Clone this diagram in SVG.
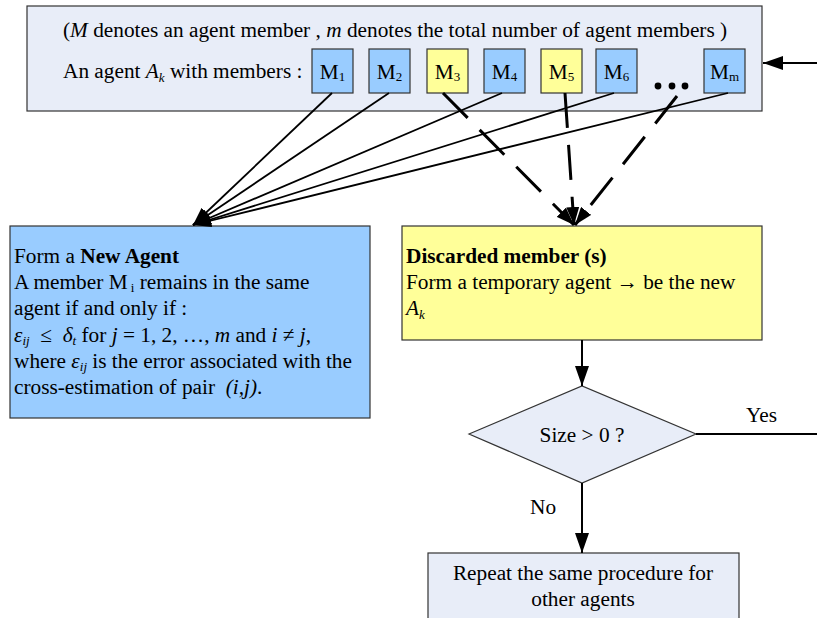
<svg xmlns="http://www.w3.org/2000/svg" width="817" height="618" viewBox="0 0 817 618">
  <style>
    text { font-family: "Liberation Serif", "Times New Roman", serif; font-size: 21.3px; fill: #000; }
    .it { font-style: italic; }
    .b { font-weight: bold; }
    .sub { font-size: 13px; }
    .pale { fill: #E8EDF8; stroke: #333; stroke-width: 1.2; }
    .blue { fill: #99CCFF; stroke: #333; stroke-width: 1.2; }
    .yellow { fill: #FFFF99; stroke: #333; stroke-width: 1.2; }
    .solid { fill: none; stroke: #000; stroke-width: 2; }
    .thin { fill: none; stroke: #000; stroke-width: 1.8; }
    .dash { fill: none; stroke: #000; stroke-width: 3; stroke-dasharray: 35 17; }
  </style>
  <defs>
    <marker id="head" viewBox="0 0 20 14" refX="20" refY="7" markerWidth="20" markerHeight="14" markerUnits="userSpaceOnUse" orient="auto">
      <path d="M0,0 L20,7 L0,14 z" fill="#000"/>
    </marker>
    <marker id="headS" viewBox="0 0 18 13" refX="18" refY="6.5" markerWidth="18" markerHeight="13" markerUnits="userSpaceOnUse" orient="auto">
      <path d="M0,0 L18,6.5 L0,13 z" fill="#000"/>
    </marker>
  </defs>

  <!-- Agent A_k with its members -->
  <g id="agent">
    <rect class="pale" x="27" y="6" width="735" height="105"/>
    <text x="63" y="37">(<tspan class="it">M</tspan> denotes an agent member , <tspan class="it">m</tspan> denotes the total number of agent members )</text>
    <text x="63" y="78">An agent <tspan class="it">A</tspan><tspan class="it sub" dy="4">k</tspan><tspan dy="-4"> with members :</tspan></text>
  </g>
  <g id="member-1">
    <rect class="blue" x="312" y="49" width="41" height="44"/>
    <text x="332.5" y="79" text-anchor="middle">M<tspan class="sub" dy="2">1</tspan></text>
  </g>
  <g id="member-2">
    <rect class="blue" x="369" y="49" width="41" height="44"/>
    <text x="389.5" y="79" text-anchor="middle">M<tspan class="sub" dy="2">2</tspan></text>
  </g>
  <g id="member-3">
    <rect class="yellow" x="427" y="49" width="41" height="44"/>
    <text x="447.5" y="79" text-anchor="middle">M<tspan class="sub" dy="2">3</tspan></text>
  </g>
  <g id="member-4">
    <rect class="blue" x="484" y="49" width="41" height="44"/>
    <text x="504.5" y="79" text-anchor="middle">M<tspan class="sub" dy="2">4</tspan></text>
  </g>
  <g id="member-5">
    <rect class="yellow" x="541" y="49" width="41" height="44"/>
    <text x="561.5" y="79" text-anchor="middle">M<tspan class="sub" dy="2">5</tspan></text>
  </g>
  <g id="member-6">
    <rect class="blue" x="596" y="49" width="41" height="44"/>
    <text x="616.5" y="79" text-anchor="middle">M<tspan class="sub" dy="2">6</tspan></text>
  </g>
  <g id="member-dots">
    <circle cx="658" cy="86" r="3.4" fill="#000"/>
    <circle cx="672" cy="86" r="3.4" fill="#000"/>
    <circle cx="685" cy="86" r="3.4" fill="#000"/>
  </g>
  <g id="member-m">
    <rect class="blue" x="704" y="49" width="41" height="44"/>
    <text x="724.5" y="79" text-anchor="middle">M<tspan class="sub" dy="2">m</tspan></text>
  </g>

  <!-- Kept members -->
  <g id="new-agent">
    <rect class="blue" x="10" y="226" width="360" height="192"/>
    <text x="14" y="263">Form a <tspan class="b">New Agent</tspan></text>
    <text x="14" y="289">A member M<tspan class="sub" dy="3"> i</tspan><tspan dy="-3"> remains in the same</tspan></text>
    <text x="14" y="315">agent if and only if :</text>
    <text x="14" y="342"><tspan class="it">ε</tspan><tspan class="it sub" dy="3">ij</tspan><tspan dy="-3">&#160; ≤ &#160;</tspan><tspan class="it">δ</tspan><tspan class="it sub" dy="3">t</tspan><tspan dy="-3"> for </tspan><tspan class="it">j</tspan> = 1, 2, …, <tspan class="it">m</tspan> and <tspan class="it">i</tspan> ≠ <tspan class="it">j</tspan>,</text>
    <text x="14" y="368">where <tspan class="it">ε</tspan><tspan class="it sub" dy="3">ij</tspan><tspan dy="-3"> is the error associated with the</tspan></text>
    <text x="14" y="394">cross-estimation of pair &#160;<tspan class="it">(i,j)</tspan>.</text>
  </g>

  <!-- Discarded members -->
  <g id="discarded">
    <rect class="yellow" x="402" y="226" width="360" height="114"/>
    <text x="406" y="263"><tspan class="b">Discarded member (s)</tspan></text>
    <text x="406" y="289">Form a temporary agent → be the new</text>
    <text x="406" y="315"><tspan class="it">A</tspan><tspan class="it sub" dy="4">k</tspan></text>
  </g>

  <!-- Size test -->
  <g id="size-check">
    <polygon class="pale" points="469,434 582,386 696,434 582,483"/>
    <text x="582" y="442" text-anchor="middle">Size &gt; 0 ?</text>
  </g>

  <g id="repeat">
    <rect class="pale" x="428" y="553" width="311" height="80"/>
    <text x="583" y="580" text-anchor="middle">Repeat the same procedure for</text>
    <text x="583" y="606" text-anchor="middle">other agents</text>
  </g>

  <!-- Connectors -->
  <g id="connectors">
    <line class="solid" x1="817" y1="63" x2="763" y2="63" marker-end="url(#head)"/>

    <line class="thin" x1="332" y1="93" x2="193" y2="225" marker-end="url(#headS)"/>
    <line class="thin" x1="389" y1="93" x2="193" y2="225" marker-end="url(#headS)"/>
    <line class="thin" x1="502" y1="93" x2="193" y2="225" marker-end="url(#headS)"/>
    <line class="thin" x1="614" y1="93" x2="193" y2="225" marker-end="url(#headS)"/>
    <line class="thin" x1="728" y1="93" x2="193" y2="225" marker-end="url(#headS)"/>

    <line class="dash" x1="443" y1="93" x2="574" y2="225" marker-end="url(#headS)"/>
    <line class="dash" x1="565" y1="93" x2="574" y2="225" marker-end="url(#headS)"/>
    <line class="dash" x1="677" y1="96" x2="575" y2="225" marker-end="url(#headS)"/>

    <line class="solid" x1="582" y1="340" x2="582" y2="386" marker-end="url(#head)"/>
    <line class="solid" x1="696" y1="434" x2="817" y2="434"/>
    <text x="746" y="422">Yes</text>
    <line class="solid" x1="582" y1="483" x2="582" y2="553" marker-end="url(#head)"/>
    <text x="530" y="514">No</text>
  </g>
</svg>
